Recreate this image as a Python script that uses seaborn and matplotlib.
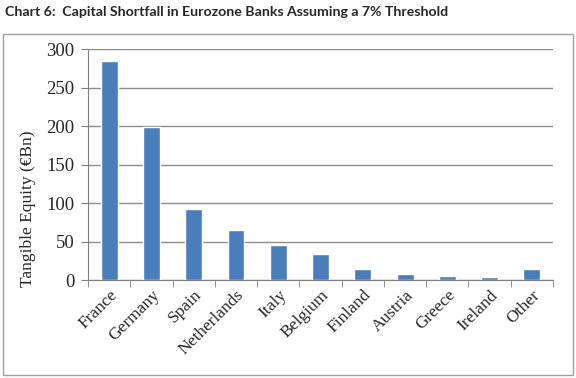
import pandas as pd
import matplotlib.pyplot as plt
import seaborn as sns
from matplotlib.patches import Rectangle

# Data
countries = ["France", "Germany", "Spain", "Netherlands", "Italy", "Belgium",
             "Finland", "Austria", "Greece", "Ireland", "Other"]
shortfall = [284, 199, 92, 65, 45, 34, 14, 8, 5, 4, 15]

df = pd.DataFrame({"Country": countries, "Shortfall": shortfall})

sns.set_style("white")
plt.rcParams["font.family"] = ["Liberation Serif", "DejaVu Serif"]

fig = plt.figure(figsize=(5.76, 3.78), dpi=100)
ax = fig.add_axes([0.153, 0.259, 0.807, 0.611])

sns.barplot(data=df, x="Country", y="Shortfall", color="#4a7ebb",
            width=0.4, saturation=1, ax=ax, zorder=3)

ax.set_ylim(0, 300)
ax.set_xlim(-0.5, len(countries) - 0.5)
ax.set_yticks(range(0, 301, 50))
ax.yaxis.grid(True, color="#8c8c8c", linewidth=1, zorder=0)
ax.set_xlabel("")
ax.set_ylabel("Tangible Equity (€Bn)", fontsize=12.5)
ax.yaxis.set_label_coords(-0.113, 0.31)

for s in ["top", "right"]:
    ax.spines[s].set_visible(False)
ax.spines["left"].set_color("#7f7f7f")
ax.spines["bottom"].set_color("#7f7f7f")

# category boundary ticks like Excel
ax.set_xticks([i - 0.5 for i in range(len(countries) + 1)], minor=True)
ax.tick_params(axis="x", which="minor", length=5, color="#7f7f7f", direction="out", bottom=True)
ax.tick_params(axis="x", which="major", length=0, labelsize=12.5, pad=5)
ax.tick_params(axis="y", length=5, color="#7f7f7f", direction="out", left=True, labelsize=13.5, pad=5)
plt.setp(ax.get_xticklabels(), rotation=45, ha="right", rotation_mode="anchor")

fig.text(0.009, 0.968, "Chart 6:  Capital Shortfall in Eurozone Banks Assuming a 7% Threshold",
         fontsize=10.2, fontweight="bold", family=["Lato", "DejaVu Sans"], va="center")

fig.patches.append(Rectangle((0.006, 0.008), 0.988, 0.902, transform=fig.transFigure,
                             fill=False, edgecolor="#a0a0a0", linewidth=1))

plt.savefig("out.png", dpi=100)
